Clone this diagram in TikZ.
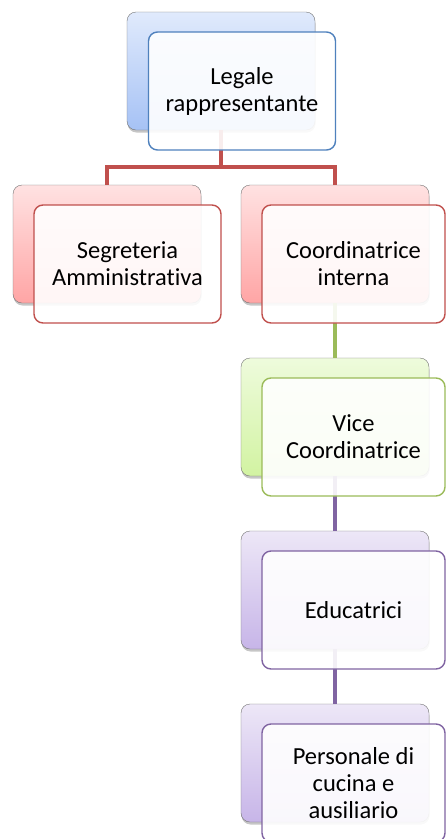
\documentclass[tikz,border=0pt]{standalone}
\usepackage{fontspec}
\setmainfont{Carlito}[RawFeature={-liga}]
\usetikzlibrary{shadows}
\definecolor{bluedark}{HTML}{4F81BD}
\definecolor{reddark}{HTML}{C0504D}
\definecolor{greendark}{HTML}{9BBB59}
\definecolor{purpledark}{HTML}{8064A2}
\definecolor{bluetop}{HTML}{E0EAFC}
\definecolor{bluebot}{HTML}{A6C2F5}
\definecolor{redtop}{HTML}{FFE2E2}
\definecolor{redbot}{HTML}{FFA5A5}
\definecolor{greentop}{HTML}{EEFBDC}
\definecolor{greenbot}{HTML}{D2F3A2}
\definecolor{purpletop}{HTML}{EDE7F7}
\definecolor{purplebot}{HTML}{C7B5E8}
\tikzset{
  backbox/.style 2 args={draw=gray!90!black, top color=#1, bottom color=#2,
    rounded corners=9pt, minimum width=188pt, minimum height=118pt, inner sep=0pt,
    drop shadow={shadow xshift=0.5pt,shadow yshift=-2.5pt,opacity=0.45}},
  frontbox/.style={draw=#1, line width=1.4pt, fill=white, fill opacity=0.9,
    text opacity=1, rounded corners=9pt, minimum width=187pt, minimum height=118pt,
    inner sep=0pt, align=center, font=\fontsize{24.5}{27}\selectfont},
  link/.style={draw=#1, line width=4pt},
}
\begin{document}
\begin{tikzpicture}[x=1pt,y=-1pt]
  \useasboundingbox (0,0) rectangle (446,839);
  \clip (0,0) rectangle (446,839);
  % boxes behind
  \node[backbox={bluetop}{bluebot}] (legb) at (221,71) {};
  \node[backbox={redtop}{redbot}] (segb) at (107,244) {};
  \node[backbox={redtop}{redbot}] (coob) at (335,244) {};
  \node[backbox={greentop}{greenbot}] (viceb) at (335,417) {};
  \node[backbox={purpletop}{purplebot}] (edub) at (335,590) {};
  \node[backbox={purpletop}{purplebot}] (perb) at (335,763) {};
  % connectors
  \coordinate (bus) at (0,167);
  \draw[link=reddark] (legb.south) -- (legb.south |- bus) -| (segb.north);
  \draw[link=reddark] (legb.south |- bus) -| (coob.north);
  \draw[link=greendark] (coob.south) -- (viceb.north);
  \draw[link=purpledark] (viceb.south) -- (edub.north);
  \draw[link=purpledark] (edub.south) -- (perb.north);
  % boxes in front
  \node[frontbox=bluedark] (legf) at (242,91) {Legale\\rappresentante};
  \node[frontbox=reddark] (segf) at (127.5,264) {Segreteria\\Amministrativa};
  \node[frontbox=reddark, minimum width=183pt] (coof) at (353.5,264) {Coordinatrice\\interna};
  \node[frontbox=greendark, minimum width=183pt] (vicef) at (353.5,437) {Vice\\Coordinatrice};
  \node[frontbox=purpledark, minimum width=183pt] (eduf) at (353.5,610) {Educatrici};
  \node[frontbox=purpledark, minimum width=183pt] (perf) at (353.5,783) {Personale di\\cucina e\\ausiliario};
\end{tikzpicture}
\end{document}
